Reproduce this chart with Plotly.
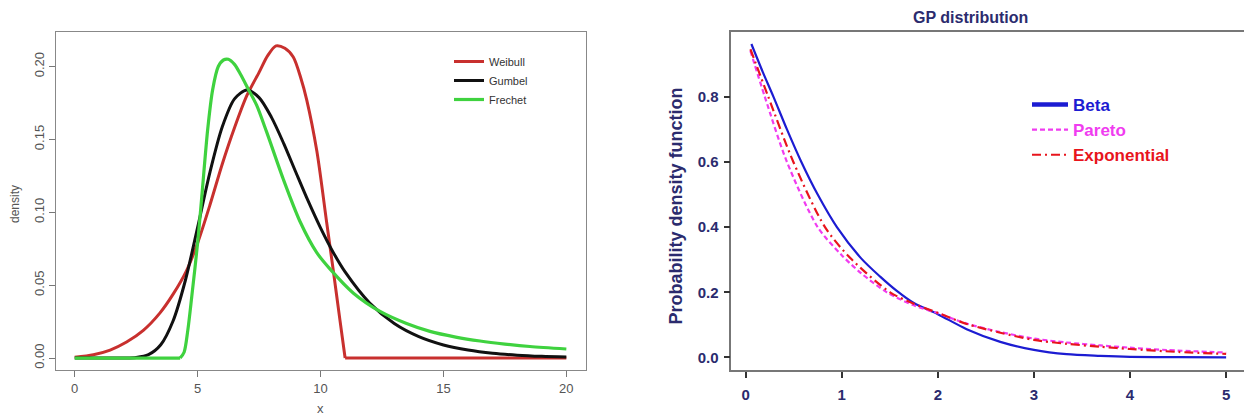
import plotly.graph_objects as go

# ---------------- Left panel: extreme value densities ----------------
weibull_x = [0, 0.76, 1.44, 2.11, 2.79, 3.47, 4.01, 4.55, 5.0, 5.5, 6.0, 6.5, 7.0, 7.5, 7.85, 8.19, 8.55,
             8.89, 9.2, 9.44, 9.85, 10.25, 10.52, 10.79, 11.0, 12, 15, 20]
weibull_y = [0.0005, 0.0023, 0.0055, 0.011, 0.019, 0.031, 0.044, 0.060, 0.079, 0.105, 0.133, 0.158, 0.180,
             0.196, 0.2075, 0.2142, 0.2125, 0.2065, 0.192, 0.177, 0.142, 0.093, 0.060, 0.026, 0.0,
             0.0, 0.0, 0.0]
weibull_corner = 24  # index where the curve reaches zero

gumbel_x = [0, 1, 2, 2.5, 3, 3.5, 4, 4.5, 5, 5.5, 6, 6.5, 7, 7.5, 8, 8.5, 9, 9.5, 10, 10.5, 11, 12, 13,
            14, 15, 16, 17, 18, 19, 20]
gumbel_y = [0.0, 0.0, 0.00003, 0.0004, 0.0023, 0.0091, 0.0254, 0.0532, 0.0897, 0.1274, 0.1585, 0.1778,
            0.1839, 0.1787, 0.1653, 0.1473, 0.1273, 0.1076, 0.0893, 0.0730, 0.0591, 0.0378, 0.0237, 0.0147,
            0.0090, 0.0055, 0.0033, 0.0020, 0.0012, 0.0007]

frechet_x = [0, 2, 4.29, 4.45, 4.6, 4.76, 5.0, 5.17, 5.41, 5.61, 5.84, 6.05, 6.25, 6.5, 6.75, 7.06, 7.4,
             7.81, 8.49, 9.17, 9.84, 10.39, 11.34, 12.42, 13.5, 14.45, 15.5, 16.49, 17.5, 18.52, 20]
frechet_y = [0, 0, 0, 0.004, 0.019, 0.042, 0.079, 0.111, 0.157, 0.184, 0.200, 0.2045, 0.205, 0.2015, 0.1945,
             0.1845, 0.1735, 0.155, 0.1225, 0.0935, 0.0725, 0.061, 0.0445, 0.032, 0.0237, 0.0183, 0.0144,
             0.0117, 0.0096, 0.0079, 0.0062]
frechet_corner = 2

left_xticks = [0, 5, 10, 15, 20]
left_xtext = ["0", "5", "10", "15", "20"]
left_yticks = [0.00, 0.05, 0.10, 0.15, 0.20]
left_ytext = ["0.00", "0.05", "0.10", "0.15", "0.20"]

# ---------------- Right panel: GP distribution ----------------
beta_x = [0.06, 0.18, 0.29, 0.43, 0.58, 0.75, 0.95, 1.2, 1.4, 1.57, 1.75, 2.0, 2.3, 2.65, 3.0, 3.34, 3.69,
          4.0, 4.5, 5.0]
beta_y = [0.962, 0.875, 0.80, 0.70, 0.60, 0.50, 0.40, 0.305, 0.248, 0.205, 0.167, 0.133, 0.087, 0.048,
          0.0233, 0.0101, 0.005, 0.002, 0.001, 0.0005]

pareto_x = [0.05, 0.2, 0.43, 0.75, 1.0, 1.2, 1.47, 1.75, 2.0, 2.3, 2.65, 3.0, 3.34, 3.69, 4.0, 4.38, 5.0]
pareto_y = [0.941, 0.80, 0.60, 0.40, 0.314, 0.259, 0.20, 0.160, 0.136, 0.104, 0.078, 0.058, 0.046, 0.037,
            0.030, 0.023, 0.015]

expo_x = [0.05, 0.236, 0.497, 0.826, 1.1, 1.503, 1.75, 2.0, 2.3, 2.65, 3.0, 3.34, 3.69, 4.0, 4.5, 5.0]
expo_y = [0.946, 0.80, 0.60, 0.40, 0.302, 0.20, 0.165, 0.137, 0.103, 0.076, 0.054, 0.042, 0.033, 0.026,
          0.017, 0.011]

right_xticks = [0, 1, 2, 3, 4, 5]
right_xtext = ["0", "1", "2", "3", "4", "5"]
right_yticks = [0.0, 0.2, 0.4, 0.6, 0.8]
right_ytext = ["0.0", "0.2", "0.4", "0.6", "0.8"]

W, H = 1244, 417
FONT = "Liberation Sans"
RED, BLACK, GREEN = "#c8302e", "#111111", "#3fd23f"
BLUE, MAGENTA, ORANGERED = "#1c1cd2", "#f03cf0", "#e8141c"
NAVY = "#2b2b6e"

fig = go.Figure()


def spl(color, width, dash=None):
    d = dict(color=color, width=width, shape="spline", smoothing=0.8)
    if dash:
        d["dash"] = dash
    return d


# Weibull: smooth part + flat tail
fig.add_trace(go.Scatter(x=weibull_x[:weibull_corner + 1], y=weibull_y[:weibull_corner + 1], mode="lines",
                         name="Weibull", legendgroup="w", line=spl(RED, 3), xaxis="x", yaxis="y",
                         legend="legend"))
fig.add_trace(go.Scatter(x=weibull_x[weibull_corner:], y=weibull_y[weibull_corner:], mode="lines",
                         name="Weibull", legendgroup="w", showlegend=False,
                         line=dict(color=RED, width=3), xaxis="x", yaxis="y"))
fig.add_trace(go.Scatter(x=gumbel_x, y=gumbel_y, mode="lines", name="Gumbel", line=spl(BLACK, 3),
                         xaxis="x", yaxis="y", legend="legend"))
fig.add_trace(go.Scatter(x=frechet_x[:frechet_corner + 1], y=frechet_y[:frechet_corner + 1], mode="lines",
                         name="Frechet", legendgroup="f", showlegend=False,
                         line=dict(color=GREEN, width=3.2), xaxis="x", yaxis="y"))
fig.add_trace(go.Scatter(x=frechet_x[frechet_corner:], y=frechet_y[frechet_corner:], mode="lines",
                         name="Frechet", legendgroup="f", line=spl(GREEN, 3.2), xaxis="x", yaxis="y",
                         legend="legend"))

# Right panel
fig.add_trace(go.Scatter(x=beta_x, y=beta_y, mode="lines", name="Beta", showlegend=False,
                         line=spl(BLUE, 2.2), xaxis="x2", yaxis="y2"))
fig.add_trace(go.Scatter(x=[None], y=[None], mode="lines",
                         name="<b><span style='color:%s'>Beta</span></b>" % BLUE,
                         line=dict(color=BLUE, width=4.5), xaxis="x2", yaxis="y2", legend="legend2",
                         legendrank=1))
fig.add_trace(go.Scatter(x=pareto_x, y=pareto_y, mode="lines",
                         name="<b><span style='color:%s'>Pareto</span></b>" % MAGENTA,
                         line=spl(MAGENTA, 2.2, "5px,3px"), xaxis="x2", yaxis="y2", legend="legend2",
                         legendrank=2))
fig.add_trace(go.Scatter(x=expo_x, y=expo_y, mode="lines",
                         name="<b><span style='color:%s'>Exponential</span></b>" % ORANGERED,
                         line=spl(ORANGERED, 2.2, "9px,4px,2px,4px"), xaxis="x2", yaxis="y2",
                         legend="legend2", legendrank=3))

left_axis_font = dict(family=FONT, size=13, color="#555555")
right_axis_font = dict(family=FONT, size=15, color=NAVY, weight="bold")

fig.update_layout(
    width=W, height=H,
    margin=dict(l=0, r=0, t=0, b=0),
    paper_bgcolor="white", plot_bgcolor="white",
    showlegend=True,
    xaxis=dict(domain=[55.8 / W, 586 / W], range=[-0.77, 20.8], anchor="y",
               tickvals=left_xticks, ticktext=left_xtext, ticks="outside", ticklen=6, tickcolor="#777",
               showline=True, mirror=True, linecolor="#888", linewidth=1.2, showgrid=False, zeroline=False,
               tickfont=left_axis_font),
    yaxis=dict(domain=[1 - 370 / H, 1 - 32.3 / H], range=[-0.0082, 0.2235], anchor="x",
               tickvals=left_yticks, ticktext=left_ytext, ticks="outside", ticklen=6, tickcolor="#777",
               tickangle=-90, showline=True, mirror=True, linecolor="#888", linewidth=1.2,
               showgrid=False, zeroline=False, tickfont=left_axis_font),
    xaxis2=dict(domain=[731.4 / W, 1.0], range=[-0.148, 5.186], anchor="y2",
                tickvals=right_xticks, ticktext=right_xtext, ticks="outside", ticklen=6, tickcolor="#333",
                tickwidth=1.5, showline=True, mirror=True, linecolor="#777", linewidth=1.8,
                showgrid=False, zeroline=False, tickfont=right_axis_font, ticklabelstandoff=4),
    yaxis2=dict(domain=[1 - 370 / H, 1 - 32.3 / H], range=[-0.0384, 0.998], anchor="x2",
                tickvals=right_yticks, ticktext=right_ytext, ticks="outside", ticklen=6, tickcolor="#333",
                tickwidth=1.5, showline=True, mirror=False, linecolor="#777", linewidth=1.8,
                showgrid=False, zeroline=False, tickfont=right_axis_font, ticklabelstandoff=2),
    legend=dict(x=449 / W, y=1 - 47 / H, xanchor="left", yanchor="top", bgcolor="rgba(0,0,0,0)",
                font=dict(family=FONT, size=11, color="#333333"), tracegroupgap=0, itemwidth=30),
    legend2=dict(x=1027 / W, y=1 - 87 / H, xanchor="left", yanchor="top", bgcolor="rgba(0,0,0,0)",
                 font=dict(family=FONT, size=17, color=NAVY), tracegroupgap=0, itemwidth=36),
    annotations=[
        dict(text="density", x=15 / W, y=1 - 204 / H, xref="paper", yref="paper", textangle=-90,
             showarrow=False, font=dict(family=FONT, size=12, color="#555555"), xanchor="center",
             yanchor="middle"),
        dict(text="x", x=320.5 / W, y=1 - 408 / H, xref="paper", yref="paper", showarrow=False,
             font=dict(family=FONT, size=13, color="#555555"), xanchor="center", yanchor="middle"),
        dict(text="<b>Probability density function</b>", x=675 / W, y=1 - 206.5 / H, xref="paper",
             yref="paper", textangle=-90, showarrow=False, font=dict(family=FONT, size=18, color=NAVY),
             xanchor="center", yanchor="middle"),
        dict(text="<b>GP distribution</b>", x=970 / W, y=1 - 17.3 / H, xref="paper", yref="paper",
             showarrow=False, font=dict(family=FONT, size=16, color=NAVY), xanchor="center",
             yanchor="middle"),
    ],
)

fig.write_html("out.html", config={"displayModeBar": False},
               post_script="document.body.style.margin='0';document.body.style.overflow='hidden';")
